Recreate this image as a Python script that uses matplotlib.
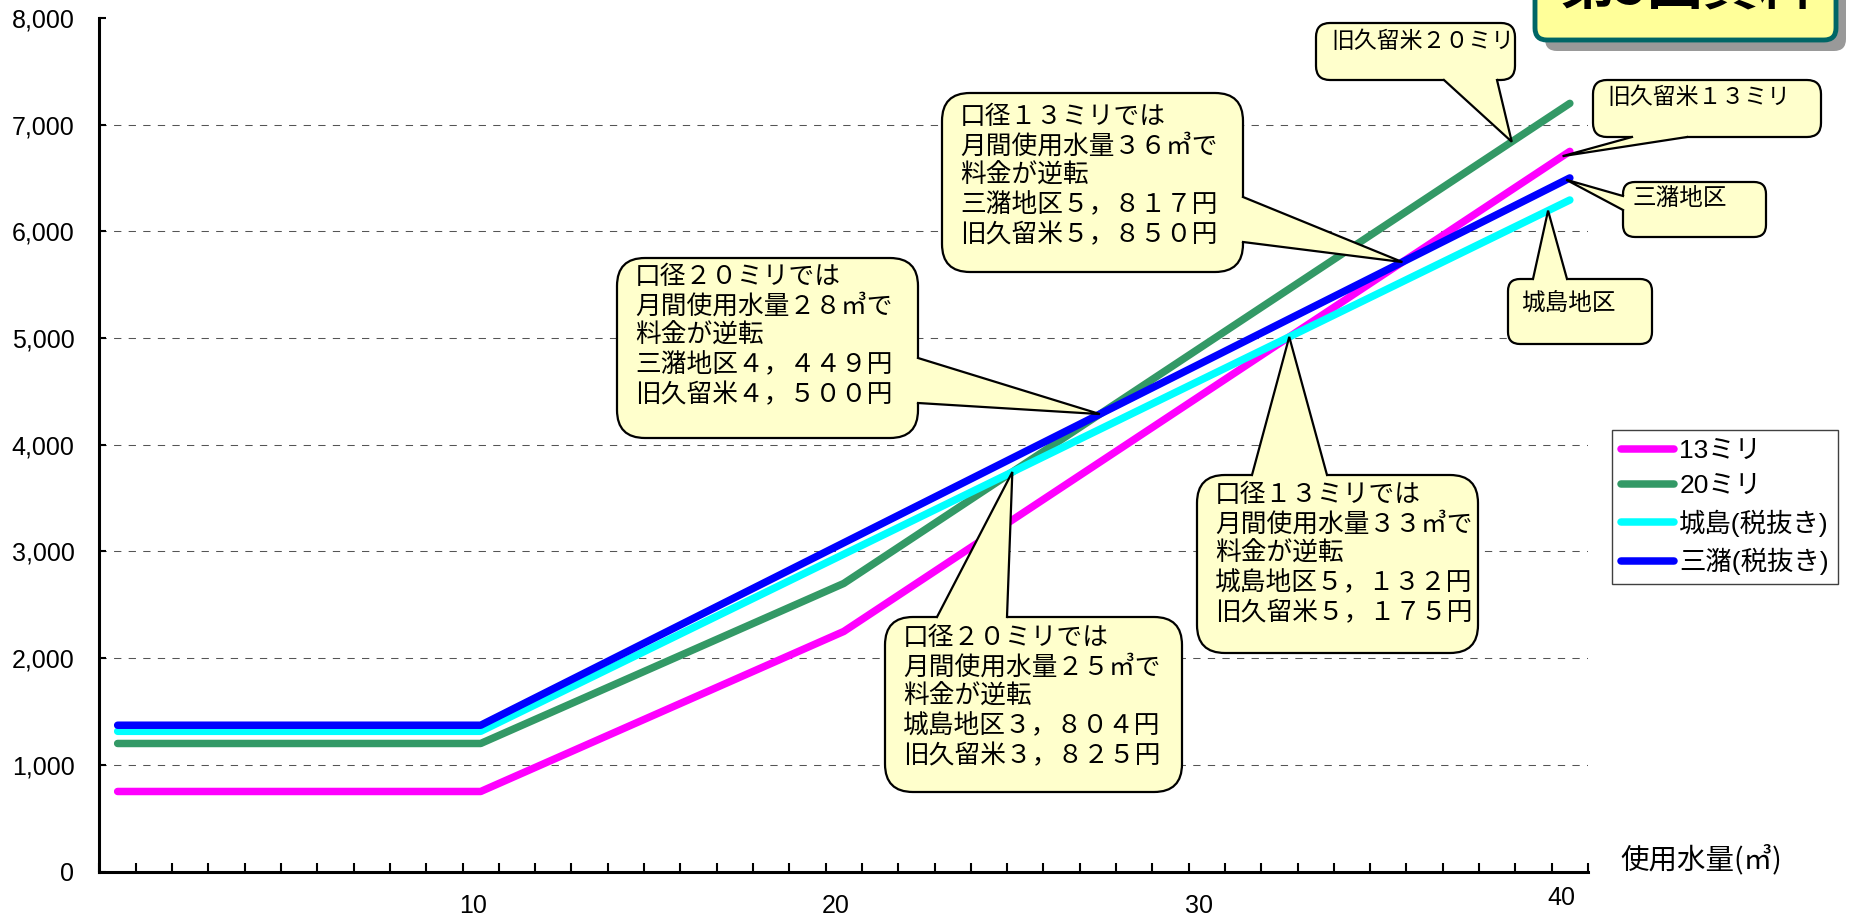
import matplotlib

matplotlib.use("Agg")
import matplotlib.pyplot as plt
import numpy as np
from matplotlib.patches import FancyBboxPatch, Polygon
from matplotlib.transforms import ScaledTranslation

plt.rcParams["font.family"] = ["Liberation Sans", "Noto Sans CJK JP"]

W, H = 1856, 921  # output size in pixels (dpi 100)

# monthly water usage (m3) -> monthly charge (yen), breakpoints of each tariff
usage_13 = [0, 10, 20, 40]
fee_13 = [750, 750, 2250, 6750]
usage_20 = [0, 10, 20, 40]
fee_20 = [1200, 1200, 2700, 7200]
usage_jojima = [0, 10, 25, 33, 40]
fee_jojima = [1314, 1314, 3804, 5132, 6294]
usage_mizuma = [0, 10, 28, 36, 40]
fee_mizuma = [1371, 1371, 4449, 5817, 6501]

series_labels = ["13ミリ", "20ミリ", "城島(税抜き)", "三潴(税抜き)"]
series_colors = ["#FF00FF", "#339966", "#00FFFF", "#0000FF"]

x_ticks = [10, 20, 30, 40]
y_ticks = [0, 1000, 2000, 3000, 4000, 5000, 6000, 7000, 8000]
x_label = "使用水量(㎥)"
doc_title = "第5回資料"

note_13_36 = ["口径１３ミリでは", "月間使用水量３６㎥で", "料金が逆転", "三潴地区５，８１７円", "旧久留米５，８５０円"]
note_20_28 = ["口径２０ミリでは", "月間使用水量２８㎥で", "料金が逆転", "三潴地区４，４４９円", "旧久留米４，５００円"]
note_20_25 = ["口径２０ミリでは", "月間使用水量２５㎥で", "料金が逆転", "城島地区３，８０４円", "旧久留米３，８２５円"]
note_13_33 = ["口径１３ミリでは", "月間使用水量３３㎥で", "料金が逆転", "城島地区５，１３２円", "旧久留米５，１７５円"]

NOTE_FILL = "#FFFFCC"
JP = ["Noto Sans CJK JP"]

fig = plt.figure(figsize=(W / 100, H / 100), dpi=100)
ax = fig.add_axes([99.5 / W, 1 - 871.5 / H, (1588 - 99.5) / W, (871.5 - 18) / H])

series = [
    (usage_13, fee_13),
    (usage_20, fee_20),
    (usage_jojima, fee_jojima),
    (usage_mizuma, fee_mizuma),
]
for (xs, ys), label, color in zip(series, series_labels, series_colors):
    ax.plot(xs, ys, color=color, lw=5.4, label=label,
            solid_capstyle="round", solid_joinstyle="round", zorder=3)

for y in y_ticks[1:-1]:
    ax.axhline(y, color="#555555", lw=0.75, ls=(0, (7, 7)), zorder=1)

ax.set_xlim(-0.5, 40.5)
ax.set_ylim(0, 8000)
ax.set_xticks(x_ticks)
ax.set_xticks(np.arange(-0.5, 41, 1), minor=True)
ax.set_yticks(y_ticks)
ax.set_yticklabels([f"{v:,}" for v in y_ticks])
ax.tick_params(axis="x", which="major", length=0, pad=16, labelsize=18)
ax.tick_params(axis="x", which="minor", direction="in", length=6.5, width=1.5)
ax.tick_params(axis="y", direction="in", length=5, width=1.5, pad=18, labelsize=18)
for side in ("top", "right"):
    ax.spines[side].set_visible(False)
for side in ("left", "bottom"):
    ax.spines[side].set_linewidth(2.2)

# category labels sit slightly left of the category centre, the last one a bit higher
for i, lbl in enumerate(ax.get_xticklabels()):
    dy = 8 if i == len(x_ticks) - 1 else 0
    lbl.set_transform(lbl.get_transform() + ScaledTranslation(-8 / 100, dy / 100, fig.dpi_scale_trans))

leg = ax.legend(loc="upper left", bbox_to_anchor=(1612 / W, 1 - 430 / H),
                bbox_transform=fig.transFigure, borderaxespad=0,
                prop={"family": ["Liberation Sans", "Noto Sans CJK JP"], "size": 19},
                handlelength=2.0, handletextpad=0.2, labelspacing=0.42,
                borderpad=0.35, fancybox=False, framealpha=1, edgecolor="#404040")
leg.get_frame().set_linewidth(1.0)
for h in leg.get_lines():
    h.set_linewidth(5.4)
    h.set_solid_capstyle("round")

# overlay in pixel units (origin top-left) for the callouts
ov = fig.add_axes([0, 0, 1, 1], zorder=5)
ov.set_xlim(0, W)
ov.set_ylim(H, 0)
ov.axis("off")
ov.patch.set_alpha(0)


def to_px(x, y):
    dx, dy = ax.transData.transform((x, y))
    return dx, H - dy


def on_line(idx, x):
    xs, ys = series[idx]
    return to_px(x, np.interp(x, xs, ys))


def crossing(a, b):
    xa, ya = series[a]
    xb, yb = series[b]
    grid = np.linspace(0, 40, 40001)
    d = np.interp(grid, xa, ya) - np.interp(grid, xb, yb)
    i = np.where(np.diff(np.sign(d)) != 0)[0][0]
    return to_px(grid[i], np.interp(grid[i], xa, ya))


def bubble(box, side, base, tip, lines, size, first, step=29.5, rounding=28, pad=18):
    l, t, r, b = box
    ov.add_patch(FancyBboxPatch((l, t), r - l, b - t,
                                boxstyle=f"round,pad=0,rounding_size={rounding}",
                                fc=NOTE_FILL, ec="black", lw=1.6, zorder=3))
    ix, iy = {"top": (0, 1), "bottom": (0, -1), "left": (1, 0), "right": (-1, 0)}[side]
    (x1, y1), (x2, y2) = base
    k = 4
    ov.add_patch(Polygon([(x1 + ix * k, y1 + iy * k), (x1, y1), tip, (x2, y2),
                          (x2 + ix * k, y2 + iy * k)], closed=True,
                         fc=NOTE_FILL, ec="none", zorder=4))
    ov.plot([x1, tip[0], x2], [y1, tip[1], y2], color="black", lw=1.6,
            solid_joinstyle="miter", zorder=5)
    for i, line in enumerate(lines):
        ov.text(l + pad, t + first + i * step, line, family=JP, fontsize=size,
                ha="left", va="center", zorder=6)


# crossing-point callouts
bubble((942, 93, 1243, 272), "right", [(1243, 197), (1243, 242)], crossing(0, 3),
       note_13_36, 18.5, 24)
bubble((617, 258, 918, 438), "right", [(918, 358), (918, 403)], crossing(1, 3),
       note_20_28, 18.5, 19)
bubble((885, 617, 1182, 792), "top", [(937, 617), (1007, 617)], crossing(1, 2),
       note_20_25, 18.5, 21)
bubble((1197, 475, 1478, 653), "top", [(1252, 475), (1327, 475)], crossing(0, 2),
       note_13_33, 18.5, 20)

# line-end labels
bubble((1316, 23, 1515, 80), "bottom", [(1444, 80), (1497, 80)], on_line(1, 38.4),
       ["旧久留米２０ミリ"], 16.5, 19, rounding=14, pad=15)
bubble((1593, 80, 1821, 137), "bottom", [(1632, 137), (1687, 137)], on_line(0, 39.8),
       ["旧久留米１３ミリ"], 16.5, 17, rounding=14, pad=14)
bubble((1623, 182, 1766, 237), "left", [(1623, 196), (1623, 210)], on_line(3, 39.9),
       ["三潴地区"], 17, 16, rounding=12, pad=10)
bubble((1508, 279, 1652, 344), "top", [(1533, 279), (1567, 279)], on_line(2, 39.4),
       ["城島地区"], 17, 24, rounding=12, pad=13)

# document tag in the top right corner
ov.add_patch(FancyBboxPatch((1545, -40), 301, 91, boxstyle="round,pad=0,rounding_size=12",
                            fc="#999999", ec="none", zorder=7))
ov.add_patch(FancyBboxPatch((1535, -50), 301, 90, boxstyle="round,pad=0,rounding_size=12",
                            fc="#FFFF99", ec="#006666", lw=3.5, zorder=8))
ov.text(1686, -12, doc_title, family=JP, fontsize=40, fontweight="bold",
        ha="center", va="center", zorder=9)

fig.text(1620 / W, 1 - 860 / H, x_label, family=JP, fontsize=20.5, ha="left", va="center")

fig.savefig("out.png", dpi=100)
